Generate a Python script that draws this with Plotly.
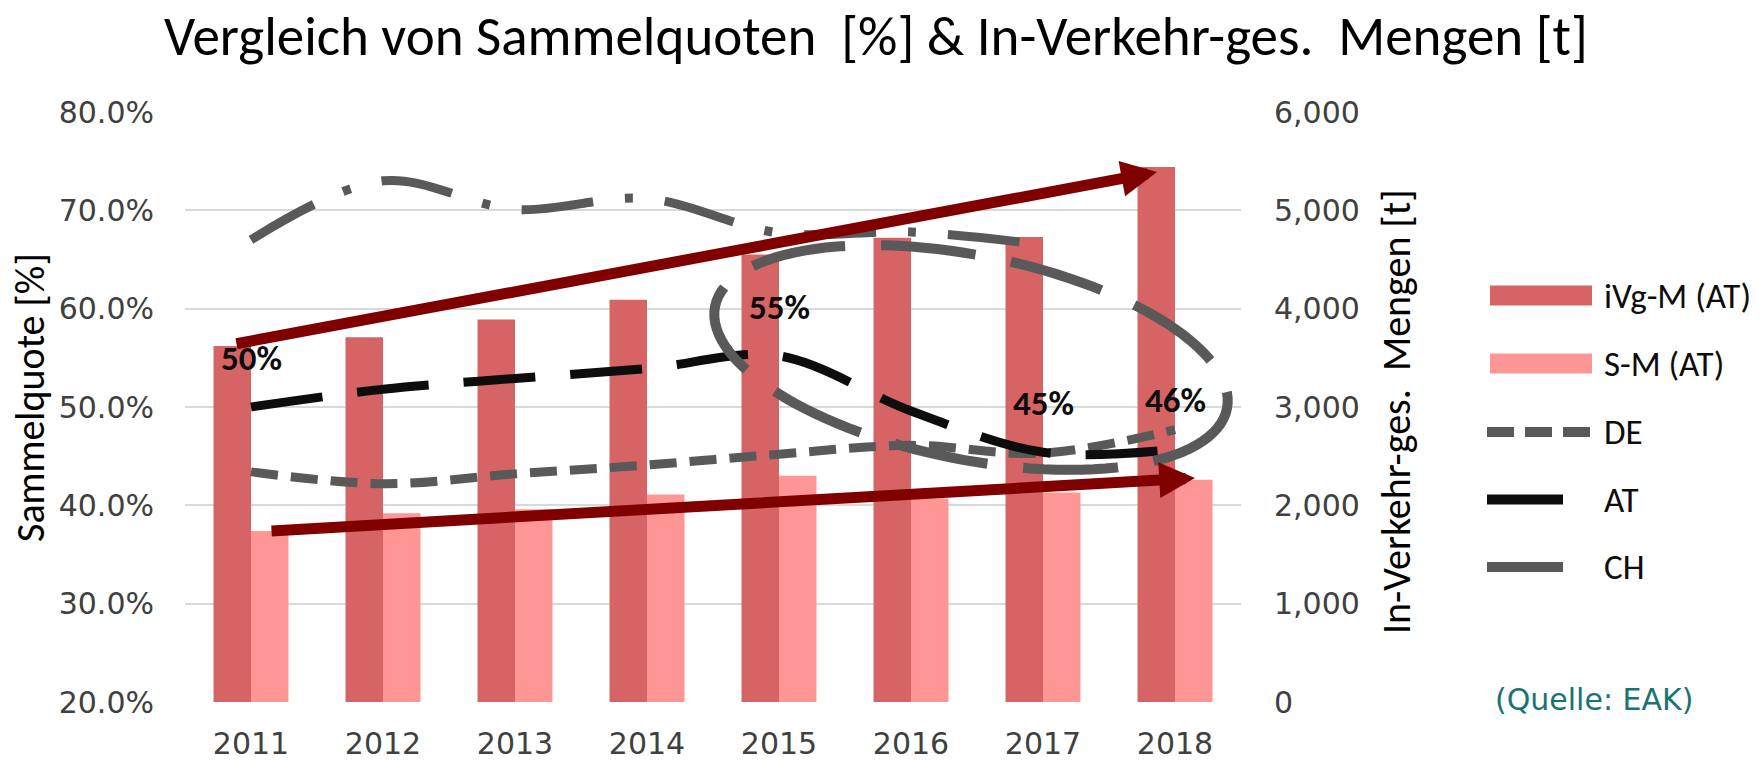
import numpy as np
import plotly.graph_objects as go

# ---------------- data ----------------
years = ["2011", "2012", "2013", "2014", "2015", "2016", "2017", "2018"]
ivg_m_at = [3620, 3710, 3890, 4090, 4550, 4720, 4730, 5440]   # t, right axis
s_m_at = [1740, 1920, 1960, 2110, 2300, 2070, 2130, 2260]      # t, right axis
de = [43.4, 42.2, 43.2, 44.1, 45.2, 46.1, 45.3, 47.7]          # %, left axis
at = [50.0, 51.8, 52.9, 53.9, 55.2, 49.6, 45.4, 45.7]          # %, left axis
ch = [67.0, 73.0, 70.1, 71.2, 67.7, 67.8, 66.5, None]          # %, left axis
at_label_idx = [0, 4, 6, 7]
pct_ticks = [20, 30, 40, 50, 60, 70, 80]
t_ticks = [0, 1000, 2000, 3000, 4000, 5000, 6000]
legend_names = ["iVg-M (AT)", "S-M (AT)", "DE", "AT", "CH"]

# ---------------- layout constants ----------------
W, H = 1762, 762
L, R, T, B = 185, 1241, 112, 702
PW, PH = R - L, B - T
CAT = PW / len(years)

C_DARK = "#D66464"
C_LIGHT = "#FF9696"
C_GRAY = "#595959"
C_BLACK = "#0D0D0D"
C_ARROW = "#800000"
C_TICK = "#404040"

CAL = "Carlito, 'Liberation Sans Narrow', 'DejaVu Sans Condensed', sans-serif"
GOTH = "'Century Gothic', 'DejaVu Sans', sans-serif"


def pxx(x):
    return (x - L) / PW


def pxy(y):
    return (B - y) / PH


def datx(x):
    return (x - L) / CAT - 0.5


def daty(y):
    return pct_ticks[-1] - (y - T) / PH * (pct_ticks[-1] - pct_ticks[0])


xi = np.arange(len(years))

fig = go.Figure()
fig.add_trace(go.Bar(x=xi, y=ivg_m_at, name=legend_names[0], marker=dict(color=C_DARK, line=dict(width=0)), yaxis="y"))
fig.add_trace(go.Bar(x=xi, y=s_m_at, name=legend_names[1], marker=dict(color=C_LIGHT, line=dict(width=0)), yaxis="y"))
fig.add_trace(go.Scatter(x=xi, y=de, name=legend_names[2], mode="lines", yaxis="y2",
                         line=dict(color=C_GRAY, width=9, dash="27px,13px", shape="spline", smoothing=1.0)))
fig.add_trace(go.Scatter(x=xi, y=at, name=legend_names[3], mode="lines", yaxis="y2",
                         line=dict(color=C_BLACK, width=9, dash="72px,35px", shape="spline", smoothing=1.0)))
fig.add_trace(go.Scatter(x=xi, y=ch, name=legend_names[4], mode="lines", yaxis="y2", connectgaps=False,
                         line=dict(color=C_GRAY, width=9, dash="72px,32px,8px,32px", shape="spline", smoothing=1.0)))

annotations = []
shapes = []

# data labels for AT
for i in at_label_idx:
    annotations.append(dict(x=xi[i], y=at[i], xref="x", yref="y2", text=f"<b>{at[i]:.0f}%</b>",
                            showarrow=False, yshift=49, xanchor="center", yanchor="middle",
                            font=dict(family=CAL, size=35, color=C_BLACK)))

# trend arrows (pixel positions of tail and tip)
arrows = [((235, 344), (1157, 172)), ((270, 531), (1195, 478))]
for (tx, ty), (hx, hy) in arrows:
    annotations.append(dict(x=datx(hx), y=daty(hy), xref="x", yref="y2",
                            ax=datx(tx), ay=daty(ty), axref="x", ayref="y2",
                            text="", showarrow=True, arrowhead=2, arrowsize=0.65,
                            arrowwidth=11, arrowcolor=C_ARROW, standoff=0, startstandoff=0))

# dashed ellipse (rotated)
cx, cy, ea, eb, th = 971, 357.5, 261, 102, np.deg2rad(11.3)
t = np.linspace(0, 2 * np.pi, 121)
ex = cx + ea * np.cos(t) * np.cos(th) - eb * np.sin(t) * np.sin(th)
ey = cy + ea * np.cos(t) * np.sin(th) + eb * np.sin(t) * np.cos(th)
path = "M " + " L ".join(f"{pxx(a):.5f},{pxy(b):.5f}" for a, b in zip(ex, ey)) + " Z"
shapes.append(dict(type="path", path=path, xref="paper", yref="paper",
                   line=dict(color=C_GRAY, width=10, dash="95px,36px")))

# custom legend
rows_y = [295.5, 363.5, 432, 499.5, 567]
sw_x0 = 1490
shapes.append(dict(type="rect", xref="paper", yref="paper", x0=pxx(sw_x0), x1=pxx(1592),
                   y0=pxy(rows_y[0] - 10), y1=pxy(rows_y[0] + 10), line=dict(width=0), fillcolor=C_DARK))
shapes.append(dict(type="rect", xref="paper", yref="paper", x0=pxx(sw_x0), x1=pxx(1592),
                   y0=pxy(rows_y[1] - 10), y1=pxy(rows_y[1] + 10), line=dict(width=0), fillcolor=C_LIGHT))
shapes.append(dict(type="line", xref="paper", yref="paper", x0=pxx(1487), x1=pxx(1592),
                   y0=pxy(rows_y[2]), y1=pxy(rows_y[2]), line=dict(color=C_GRAY, width=10, dash="27px,11px")))
shapes.append(dict(type="line", xref="paper", yref="paper", x0=pxx(1487), x1=pxx(1563),
                   y0=pxy(rows_y[3]), y1=pxy(rows_y[3]), line=dict(color=C_BLACK, width=10)))
shapes.append(dict(type="line", xref="paper", yref="paper", x0=pxx(1487), x1=pxx(1563),
                   y0=pxy(rows_y[4]), y1=pxy(rows_y[4]), line=dict(color=C_GRAY, width=10)))
for name, ry in zip(legend_names, rows_y):
    annotations.append(dict(x=pxx(1602), y=pxy(ry), xref="paper", yref="paper", text=name,
                            showarrow=False, xanchor="left", yanchor="middle",
                            font=dict(family=CAL, size=35, color=C_BLACK)))

# title, axis titles, source
annotations.append(dict(x=pxx(876), y=pxy(36), xref="paper", yref="paper",
                        text="Vergleich von Sammelquoten\u00a0 [%] & In-Verkehr-ges.\u00a0 Mengen [t]",
                        showarrow=False, xanchor="center", yanchor="middle",
                        font=dict(family=CAL, size=55, color="#000000")))
annotations.append(dict(x=pxx(30), y=pxy(398), xref="paper", yref="paper", text="Sammelquote [%]",
                        textangle=-90, showarrow=False, xanchor="center", yanchor="middle",
                        font=dict(family=CAL, size=40, color="#000000")))
annotations.append(dict(x=pxx(1396), y=pxy(412), xref="paper", yref="paper",
                        text="In-Verkehr-ges.\u00a0 Mengen [t]",
                        textangle=-90, showarrow=False, xanchor="center", yanchor="middle",
                        font=dict(family=CAL, size=40, color="#000000")))
annotations.append(dict(x=pxx(1594), y=pxy(699), xref="paper", yref="paper", text="(Quelle: EAK)",
                        showarrow=False, xanchor="center", yanchor="middle",
                        font=dict(family=GOTH, size=30, color="#1A7373")))

fig.update_layout(
    width=W, height=H, autosize=False,
    margin=dict(l=L, r=W - R, t=T, b=H - B, pad=0),
    plot_bgcolor="white", paper_bgcolor="white",
    showlegend=False, barmode="group", bargap=0.432, bargroupgap=0,
    xaxis=dict(range=[-0.5, len(years) - 0.5], tickvals=xi, ticktext=years, showgrid=False,
               zeroline=False, showline=False, ticks="", ticklabelstandoff=21, automargin=False,
               tickfont=dict(family=GOTH, size=30, color=C_TICK)),
    yaxis=dict(range=[t_ticks[0], t_ticks[-1]], tickvals=t_ticks, ticktext=[f"{v:,}" for v in t_ticks],
               side="right", showgrid=True, gridcolor="#D9D9D9", gridwidth=1.5, zeroline=False,
               showline=False, ticks="", ticklabelstandoff=32, automargin=False,
               tickfont=dict(family=GOTH, size=30, color=C_TICK)),
    yaxis2=dict(range=[pct_ticks[0], pct_ticks[-1]], tickvals=pct_ticks,
                ticktext=[f"{v:.1f}%" for v in pct_ticks], overlaying="y", side="left",
                showgrid=False, zeroline=False, showline=False, ticks="", ticklabelstandoff=30,
                automargin=False, tickfont=dict(family=GOTH, size=30, color=C_TICK)),
    annotations=annotations, shapes=shapes,
)

fig.write_html("out.html")
